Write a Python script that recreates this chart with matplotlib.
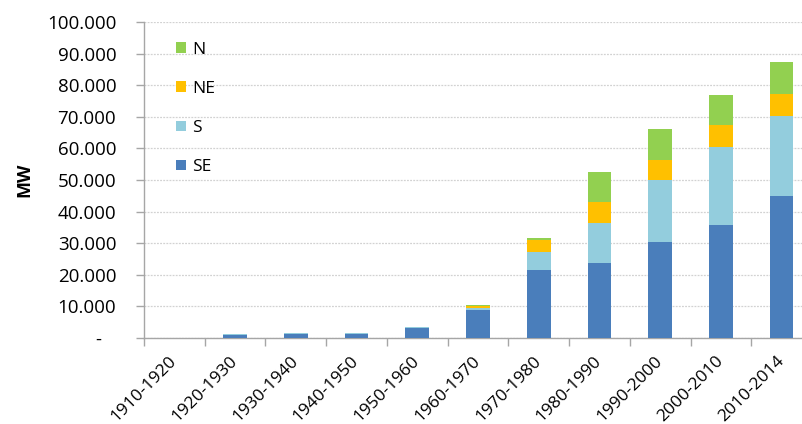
import numpy as np
import matplotlib.pyplot as plt
from matplotlib.ticker import FuncFormatter

# Capacidade instalada por região (MW), por década
periodos = ['1910-1920', '1920-1930', '1930-1940', '1940-1950', '1950-1960',
            '1960-1970', '1970-1980', '1980-1990', '1990-2000', '2000-2010',
            '2010-2014']
se = [0, 1100, 1400, 1400, 3300, 8900, 21500, 23700, 30300, 35900, 44900]
s = [0, 100, 100, 100, 100, 500, 5700, 12700, 19700, 24500, 25400]
ne = [0, 0, 0, 0, 0, 800, 3900, 6600, 6400, 6900, 6900]
n = [0, 0, 0, 0, 0, 100, 600, 9400, 9600, 9600, 10300]

cores = {'SE': '#4a7ebb', 'S': '#93cddd', 'NE': '#ffc000', 'N': '#92d050'}

plt.rcParams['font.family'] = ['Open Sans', 'DejaVu Sans']

fig = plt.figure(figsize=(8.02, 4.24), dpi=100)
ax = fig.add_axes([144 / 802, 86 / 424, 668 / 802, 316 / 424])

x = np.arange(len(periodos))
largura = 0.39
base = np.zeros(len(periodos))
barras = {}
for nome, valores in [('SE', se), ('S', s), ('NE', ne), ('N', n)]:
    v = np.array(valores, dtype=float)
    barras[nome] = ax.bar(x, v, largura, bottom=base, color=cores[nome],
                          edgecolor='none', zorder=3)
    base += v

ax.set_xlim(-0.5, len(periodos) - 0.5)
ax.set_ylim(0, 100000)
ax.set_yticks(np.arange(0, 100001, 10000))
# formato contábil: zero aparece como traço
ax.yaxis.set_major_formatter(FuncFormatter(
    lambda v, p: '-   ' if v == 0 else f'{int(v):,}'.replace(',', '.')))
ax.grid(axis='y', color='#d2d2d2', linestyle=(0, (1.5, 1)), linewidth=0.9, zorder=0)

ax.set_xticks(x)
ax.set_xticklabels(periodos, rotation=45, ha='right', va='center',
                   rotation_mode='anchor')
ax.tick_params(axis='x', length=0, pad=15, labelsize=12.5)
ax.set_xticks(np.arange(-0.5, len(periodos), 1), minor=True)
ax.tick_params(axis='x', which='minor', length=6, color='#a6a6a6', width=1)
ax.tick_params(axis='y', length=6, color='#a6a6a6', width=1, labelsize=13.5, pad=14)

for lado in ['top', 'right']:
    ax.spines[lado].set_visible(False)
for lado in ['left', 'bottom']:
    ax.spines[lado].set_color('#a6a6a6')
    ax.spines[lado].set_linewidth(1)

ax.set_ylabel('MW', fontsize=13, fontweight='bold', labelpad=10)

ordem = ['N', 'NE', 'S', 'SE']
leg = ax.legend([barras[k] for k in ordem], ordem, loc='upper left',
                bbox_to_anchor=(0.0245, 0.987), frameon=False, fontsize=12.5,
                handlelength=0.55, handleheight=0.55, handletextpad=0.4,
                labelspacing=1.33)

fig.savefig('out.png', dpi=100)
